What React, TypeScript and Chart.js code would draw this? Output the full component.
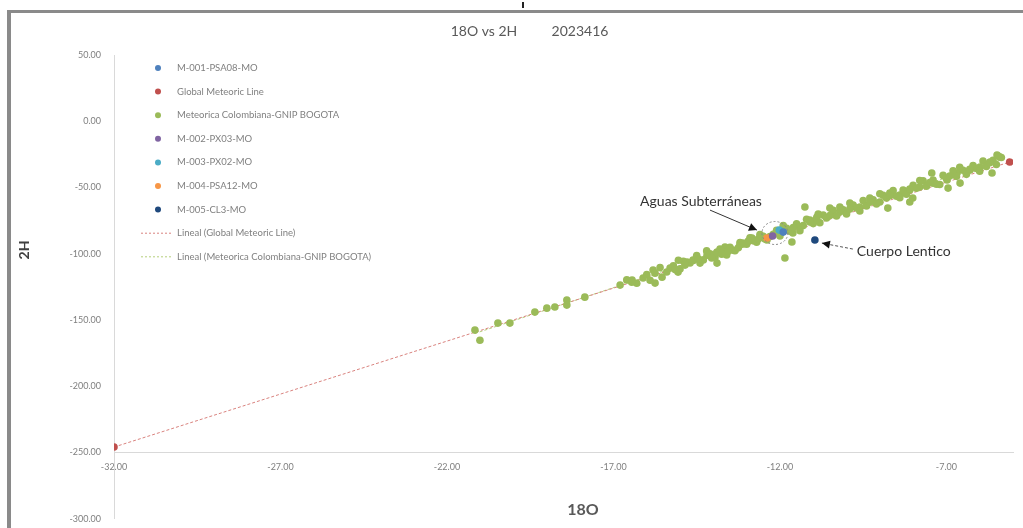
import React, { useEffect, useRef } from "react";
import { Chart, registerables } from "chart.js";

Chart.register(...registerables);

// ---------- texts ----------
const TITLE_PARTS = ["18O vs 2H", "2023416"];
const X_TITLE = "18O";
const Y_TITLE = "2H";
const NOTE_AGUAS = "Aguas Subterráneas";
const NOTE_LENTICO = "Cuerpo Lentico";

// ---------- axes ----------
const X_MIN = -32;
const X_MAX = -5;
const X_TICKS = [-32, -27, -22, -17, -12, -7];
const Y_MIN = -300;
const Y_MAX = 50;
const Y_STEP = 50;
const X_AXIS_CROSS_Y = -250;

// ---------- series names ----------
const SERIES_NAMES = [
  "M-001-PSA08-MO",
  "Global Meteoric Line",
  "Meteorica Colombiana-GNIP BOGOTA",
  "M-002-PX03-MO",
  "M-003-PX02-MO",
  "M-004-PSA12-MO",
  "M-005-CL3-MO",
];
const TREND_NAMES = [
  "Lineal (Global Meteoric Line)",
  "Lineal (Meteorica Colombiana-GNIP BOGOTA)",
];
const SERIES_COLORS = ["#4F81BD", "#C0504D", "#9BBB59", "#8064A2", "#4BACC6", "#F79646", "#1F497D"];
const TREND_COLORS = ["#D9837F", "#B5CF7C"];

// ---------- values (18O, 2H) ----------
const M001: [number, number][] = [[-11.9, -83.7]];
const GMWL: [number, number][] = [[-32.0, -246.0], [-5.1, -30.8]];
const GNIP: [number, number][] = [
  [-21.16, -157.7], [-21.01, -165.3], [-20.47, -152.4], [-20.11, -152.4], [-19.36, -144.1],
  [-19.0, -141.1], [-18.76, -140.3], [-18.4, -135.0], [-18.4, -138.8], [-17.86, -132.8],
  [-16.8, -123.7], [-16.44, -119.9], [-16.11, -118.4], [-15.81, -112.4], [-15.75, -122.2],
  [-15.54, -117.7], [-15.3, -110.9], [-15.06, -113.9], [-14.79, -106.3], [-14.61, -104.8],
  [-14.4, -107.1], [-14.19, -101.1], [-13.89, -107.1], [-13.89, -98.8], [-13.65, -95.0],
  [-13.41, -97.3], [-13.2, -93.5], [-13.11, -92.0], [-12.84, -88.2], [-12.6, -87.5],
  [-12.39, -89.7], [-11.85, -103.3], [-11.64, -91.2], [-11.61, -84.4], [-11.25, -64.8],
  [-11.4, -79.9], [-11.1, -74.6], [-10.89, -72.4], [-10.5, -65.6], [-10.2, -68.6],
  [-9.9, -61.8], [-9.6, -64.8], [-9.3, -58.0], [-9.0, -61.0], [-8.7, -54.2],
  [-8.76, -65.6], [-8.4, -55.7], [-8.1, -61.0], [-8.1, -52.0], [-7.8, -49.7],
  [-7.44, -39.1], [-7.41, -46.7], [-6.98, -44.4], [-6.95, -50.5], [-6.59, -46.7],
  [-6.68, -39.1], [-6.29, -36.9], [-5.99, -34.6], [-5.63, -39.1], [-5.69, -30.8],
  [-5.39, -27.0], [-5.48, -25.5], [-8.01, -58.0],
  [-16.6, -119.8], [-16.3, -122.3], [-16.0, -115.8], [-15.9, -120.0], [-15.6, -110.5],
  [-15.4, -113.8], [-15.2, -109.2], [-15.0, -111.5], [-14.9, -105.7], [-14.7, -107.0],
  [-14.5, -101.4], [-14.3, -104.7], [-14.1, -100.0], [-13.95, -102.8], [-13.8, -96.5],
  [-13.7, -98.7], [-13.5, -95.1], [-13.35, -97.8], [-13.2, -91.6], [-13.0, -92.9],
  [-12.9, -88.1], [-12.7, -91.4], [-12.5, -86.8], [-12.3, -87.1], [-12.1, -82.4],
  [-12.0, -86.6], [-11.8, -80.9], [-11.7, -83.1], [-11.5, -77.5], [-11.3, -78.8],
  [-11.2, -74.0], [-11.0, -77.3], [-10.9, -73.5], [-10.8, -76.6], [-10.7, -70.8],
  [-10.6, -73.0], [-10.4, -67.3], [-10.3, -71.5], [-10.1, -66.8], [-10.0, -70.0],
  [-9.8, -63.3], [-9.7, -65.5], [-9.5, -59.9], [-9.4, -64.0], [-9.2, -59.4],
  [-9.1, -62.5], [-8.9, -55.9], [-8.8, -58.0], [-8.6, -52.4], [-8.5, -56.6],
  [-8.3, -51.9], [-8.2, -55.1], [-8.0, -48.4], [-7.9, -50.6], [-7.7, -44.9],
  [-7.6, -49.1], [-7.4, -44.4], [-7.3, -47.6], [-7.1, -40.9], [-7.0, -43.1],
  [-6.8, -37.4], [-6.7, -41.6], [-6.5, -37.0], [-6.4, -40.1], [-6.2, -33.5],
  [-6.1, -35.6], [-5.9, -30.0], [-5.8, -34.1], [-5.6, -29.5], [-5.5, -32.7],
  [-5.35, -27.4],
  [-16.45, -121.5], [-15.75, -114.7], [-15.05, -104.9], [-14.6, -105.2], [-14.2, -97.9],
  [-13.9, -99.4], [-13.6, -100.9], [-13.1, -92.7], [-12.8, -90.2], [-12.6, -85.6],
  [-12.2, -85.3], [-11.9, -78.8], [-11.6, -80.3], [-11.4, -82.6], [-11.1, -76.1],
  [-10.85, -70.1], [-10.5, -71.2], [-10.2, -64.7], [-9.9, -66.2], [-9.6, -67.7],
  [-9.3, -61.2], [-9.0, -54.7], [-8.7, -56.2], [-8.4, -57.7], [-8.1, -51.2],
  [-7.8, -44.7], [-7.5, -46.3], [-7.2, -47.8], [-6.9, -41.3], [-6.6, -34.8],
  [-6.3, -36.3], [-6.0, -37.8], [-5.7, -31.3], [-5.45, -26.2],
  [-13.55, -98.2], [-13.25, -95.6], [-12.95, -90.4], [-12.65, -89.0], [-12.45, -88.9],
  [-14.05, -103.2], [-14.45, -104.0], [-14.85, -108.6], [-15.15, -112.0], [-13.75, -100.4],
];
const M002: [number, number][] = [[-12.22, -86.6]];
const M003: [number, number][] = [[-12.02, -82.2]];
const M004: [number, number][] = [[-12.39, -88.2]];
const M005: [number, number][] = [[-10.95, -89.7]];

const SERIES_VALUES = [M001, GMWL, GNIP, M002, M003, M004, M005];

// ---------- helpers ----------
const FONT = "Lato, 'Open Sans', sans-serif";

function toXY(pts: [number, number][]) {
  return pts.map(([x, y]) => ({ x, y }));
}

function linearFit(pts: [number, number][]) {
  const n = pts.length;
  let sx = 0, sy = 0, sxx = 0, sxy = 0;
  for (const [x, y] of pts) { sx += x; sy += y; sxx += x * x; sxy += x * y; }
  const slope = (n * sxy - sx * sy) / (n * sxx - sx * sx);
  const intercept = (sy - slope * sx) / n;
  const xs = pts.map((p) => p[0]);
  const x0 = Math.min(...xs);
  const x1 = Math.max(...xs);
  return [
    { x: x0, y: slope * x0 + intercept },
    { x: x1, y: slope * x1 + intercept },
  ];
}

function arrowHead(ctx: CanvasRenderingContext2D, x0: number, y0: number, x1: number, y1: number) {
  const a = Math.atan2(y1 - y0, x1 - x0);
  const len = 8, w = 4;
  ctx.save();
  ctx.setLineDash([]);
  ctx.fillStyle = "#111";
  ctx.beginPath();
  ctx.moveTo(x1, y1);
  ctx.lineTo(x1 - len * Math.cos(a) + w * Math.sin(a), y1 - len * Math.sin(a) - w * Math.cos(a));
  ctx.lineTo(x1 - len * Math.cos(a) - w * Math.sin(a), y1 - len * Math.sin(a) + w * Math.cos(a));
  ctx.closePath();
  ctx.fill();
  ctx.restore();
}

const decorPlugin = {
  id: "decor",
  afterDatasetsDraw(chart: any) {
    const ctx: CanvasRenderingContext2D = chart.ctx;
    const xs = chart.scales.x;
    const ys = chart.scales.y;
    const px = (v: number) => xs.getPixelForValue(v);
    const py = (v: number) => ys.getPixelForValue(v);
    ctx.save();
    // ellipse around groundwater samples
    ctx.strokeStyle = "#8a8a8a";
    ctx.lineWidth = 1;
    ctx.setLineDash([2, 2]);
    ctx.beginPath();
    ctx.ellipse(px(-12.15), py(-84.4), 13, 11.5, 0, 0, Math.PI * 2);
    ctx.stroke();

    // Aguas arrow (solid)
    ctx.setLineDash([]);
    ctx.strokeStyle = "#333";
    ctx.lineWidth = 1;
    const a0x = px(-14.1), a0y = py(-67.1), a1x = px(-12.69), a1y = py(-82.2);
    ctx.beginPath();
    ctx.moveTo(a0x, a0y);
    ctx.lineTo(a1x, a1y);
    ctx.stroke();
    arrowHead(ctx, a0x, a0y, a1x, a1y);

    // Lentico arrow (dashed)
    ctx.strokeStyle = "#555";
    ctx.setLineDash([3, 2]);
    const b0x = px(-9.81), b0y = py(-96.5), b1x = px(-10.74), b1y = py(-92.0);
    ctx.beginPath();
    ctx.moveTo(b0x, b0y);
    ctx.lineTo(b1x, b1y);
    ctx.stroke();
    arrowHead(ctx, b0x, b0y, b1x, b1y);

    // notes
    ctx.setLineDash([]);
    ctx.fillStyle = "#333";
    ctx.font = `14px ${FONT}`;
    ctx.textBaseline = "middle";
    ctx.textAlign = "left";
    ctx.fillText(NOTE_AGUAS, px(-16.2), py(-60.3));
    ctx.fillText(NOTE_LENTICO, px(-9.69), py(-98.0));
    ctx.restore();
  },
  afterDraw(chart: any) {
    const ctx: CanvasRenderingContext2D = chart.ctx;
    const area = chart.chartArea;
    ctx.save();
    // title
    ctx.fillStyle = "#595959";
    ctx.font = `14px ${FONT}`;
    ctx.textBaseline = "middle";
    ctx.textAlign = "center";
    ctx.fillText(TITLE_PARTS[0], 484, 31);
    ctx.fillText(TITLE_PARTS[1], 580, 31);

    // axis titles
    ctx.font = `bold 16px ${FONT}`;
    ctx.fillStyle = "#595959";
    ctx.fillText(X_TITLE, 583, 510);
    ctx.save();
    ctx.translate(24, 250);
    ctx.rotate(-Math.PI / 2);
    ctx.font = `bold 14px ${FONT}`;
    ctx.fillStyle = "#404040";
    ctx.fillText(Y_TITLE, 0, 0);
    ctx.restore();

    // legend (inside plot area, upper left)
    const lx = area.left + 44;
    const ty = 68;
    const rowH = 23.6;
    ctx.font = `9.5px ${FONT}`;
    ctx.textAlign = "left";
    SERIES_NAMES.forEach((name, i) => {
      const y = ty + i * rowH;
      ctx.fillStyle = SERIES_COLORS[i];
      ctx.beginPath();
      ctx.arc(lx, y, 3, 0, Math.PI * 2);
      ctx.fill();
      ctx.fillStyle = "#808080";
      ctx.fillText(name, lx + 19, y);
    });
    TREND_NAMES.forEach((name, j) => {
      const y = ty + (SERIES_NAMES.length + j) * rowH;
      ctx.strokeStyle = TREND_COLORS[j];
      ctx.lineWidth = 1;
      ctx.setLineDash([2, 2]);
      ctx.beginPath();
      ctx.moveTo(lx - 17, y);
      ctx.lineTo(lx + 14, y);
      ctx.stroke();
      ctx.setLineDash([]);
      ctx.fillStyle = "#808080";
      ctx.fillText(name, lx + 19, y);
    });
    ctx.restore();
  },
};

const CANVAS_H = 537;

export default function App() {
  const ref = useRef<HTMLCanvasElement>(null);
  useEffect(() => {
    document.body.style.margin = "0";
    const canvas = ref.current;
    if (!canvas) return;
    const orders = [1, 3, 5, 1, 1, 1, 1];
    const pointSets = SERIES_VALUES.map((vals, i) => ({
      type: "scatter" as const,
      label: SERIES_NAMES[i],
      data: toXY(vals),
      backgroundColor: SERIES_COLORS[i],
      borderColor: SERIES_COLORS[i],
      pointRadius: 3.8,
      pointBorderWidth: 0,
      order: orders[i],
    }));
    const trendSets = [linearFit(GMWL), linearFit(GNIP)].map((d, j) => ({
      type: "scatter" as const,
      label: TREND_NAMES[j],
      data: d,
      showLine: true,
      borderColor: TREND_COLORS[j],
      borderWidth: 1,
      borderDash: [3, 2],
      pointRadius: 0,
      order: 10,
    }));
    const chart = new Chart(canvas, {
      type: "scatter",
      data: { datasets: [...pointSets, ...trendSets] as any },
      options: {
        animation: false,
        responsive: false,
        layout: { padding: { left: 0, top: 55, right: 10, bottom: 10 } },
        plugins: {
          legend: { display: false },
          tooltip: { enabled: false },
          title: { display: false },
        },
        scales: {
          x: {
            type: "linear",
            min: X_MIN,
            max: X_MAX,
            position: { y: X_AXIS_CROSS_Y } as any,
            grid: { display: false, drawTicks: false },
            border: { display: true, color: "#d9d9d9", width: 1 },
            ticks: {
              padding: 9,
              color: "#7f7f7f",
              font: { family: FONT, size: 9 },
              callback: (v: any) => Number(v).toFixed(2),
            },
            afterBuildTicks: (s: any) => {
              s.ticks = X_TICKS.map((v) => ({ value: v }));
            },
          },
          y: {
            type: "linear",
            min: Y_MIN,
            max: Y_MAX,
            grid: { display: false, drawTicks: false },
            border: { display: true, color: "#d9d9d9", width: 1 },
            ticks: {
              stepSize: Y_STEP,
              padding: 13,
              color: "#7f7f7f",
              font: { family: FONT, size: 9 },
              callback: (v: any) => Number(v).toFixed(2),
            },
            afterFit: (s: any) => {
              s.width = 114;
            },
          },
        },
      },
      plugins: [decorPlugin],
    });
    return () => chart.destroy();
  }, []);

  return (
    <div style={{ position: "fixed", left: 0, top: 0, width: 1023, height: 528, background: "#fff", overflow: "hidden" }}>
      <div
        style={{
          position: "absolute",
          left: 7,
          top: 10,
          width: 1016,
          height: 518,
          borderLeft: "4px solid #8a8a8a",
          borderTop: "3px solid #8a8a8a",
          boxSizing: "border-box",
        }}
      />
      <div style={{ position: "absolute", left: 522, top: 2, width: 2, height: 6, background: "#222" }} />
      <canvas ref={ref} width={1023} height={CANVAS_H} style={{ position: "absolute", left: 0, top: 0 }} />
    </div>
  );
}
